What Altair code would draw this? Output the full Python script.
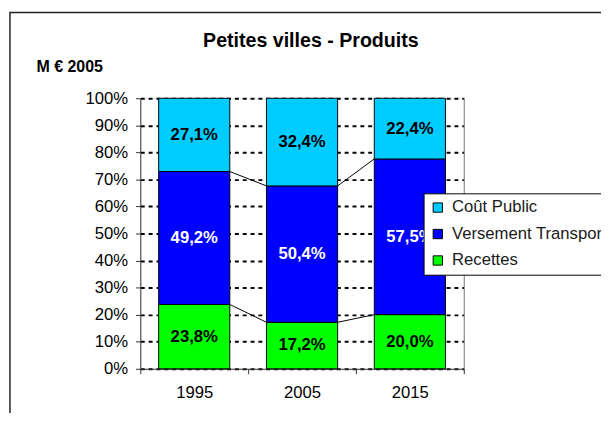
import json
import altair as alt
import pandas as pd

years = ["1995", "2005", "2015"]
series = ["Recettes", "Versement Transport", "Coût Public"]
recettes = [23.8, 17.2, 20.0]
versement = [49.2, 50.4, 57.5]
cout = [27.1, 32.4, 22.4]

legend_order = ["Coût Public", "Versement Transport", "Recettes"]
colors = {"Coût Public": "#00CCFF", "Versement Transport": "#0000FF", "Recettes": "#00FF00"}
text_colors = {"Coût Public": "#000000", "Versement Transport": "#FFFFFF", "Recettes": "#000000"}

FONT = "Liberation Sans"
BAR_L, BAR_R = 0.17, 0.83

rows = []
cums = []
for i, yr in enumerate(years):
    vals = [recettes[i], versement[i], cout[i]]
    total = sum(vals)
    cum = 0.0
    bounds = []
    for s, v in zip(series, vals):
        y0 = cum / total * 100
        y1 = (cum + v) / total * 100
        cum += v
        bounds.append(y1)
        rows.append({
            "year": yr, "series": s, "x0": i + BAR_L, "x1": i + BAR_R, "xm": i + 0.5,
            "y0": y0, "y1": y1, "ym": (y0 + y1) / 2,
            "label": f"{v:.1f}".replace(".", ",") + "%",
            "tcolor": text_colors[s],
        })
    cums.append(bounds)
df = pd.DataFrame(rows)

conn = []
for k in range(2):
    for i in range(len(years) - 1):
        conn.append({"x": i + BAR_R, "x2": i + 1 + BAR_L, "y": cums[i][k], "y2": cums[i + 1][k]})
conn_df = pd.DataFrame(conn)

W, H = 330, 276

x_scale = alt.Scale(domain=[0, len(years)], nice=False, zero=False)
y_scale = alt.Scale(domain=[0, 100], nice=False)

label_expr = ("(datum.value % 1 == 0.5) ? " + json.dumps(years) + "[floor(datum.value)] : ''")


def x_axis():
    return alt.Axis(
        values=[0, 0.5, 1, 1.5, 2, 2.5, 3], labelExpr=label_expr, title=None,
        grid=False, domainColor="#333333", tickColor="#333333", tickSize=5,
        tickOpacity={"condition": {"test": "datum.value % 1 == 0", "value": 1}, "value": 0},
        labelFont=FONT, labelFontSize=17, labelColor="#000000", labelPadding=11,
        labelOverlap=False,
    )


def y_axis():
    return alt.Axis(
        values=list(range(0, 101, 10)), labelExpr="datum.value + '%'", title=None,
        grid=True, gridColor="#000000", gridDash=[4, 4], gridWidth=2,
        domainColor="#333333", tickColor="#333333", tickSize=5,
        labelFont=FONT, labelFontSize=17, labelColor="#000000", labelPadding=8,
        labelOverlap=False,
    )


bars = alt.Chart(df).mark_bar(stroke="#000000", strokeWidth=1).encode(
    x=alt.X("x0:Q", scale=x_scale, axis=x_axis()),
    x2="x1:Q",
    y=alt.Y("y0:Q", scale=y_scale, axis=y_axis()),
    y2="y1:Q",
    color=alt.Color(
        "series:N",
        scale=alt.Scale(domain=legend_order, range=[colors[s] for s in legend_order]),
        legend=alt.Legend(
            title=None, orient="none", legendX=289, legendY=97,
            direction="vertical",
            symbolType="square", symbolSize=90, symbolStrokeColor="#000000",
            symbolStrokeWidth=1,
            labelFont=FONT, labelFontSize=17, labelColor="#1a1a1a", labelLimit=400,
            labelOffset=6, rowPadding=9, padding=6,
            strokeColor="#000000", fillColor="#FFFFFF",
        ),
    ),
)

labels = alt.Chart(df).mark_text(
    font=FONT, fontSize=17, fontWeight="bold", baseline="middle", align="center"
).encode(
    x=alt.X("xm:Q", scale=x_scale, axis=x_axis()),
    y=alt.Y("ym:Q", scale=y_scale, axis=y_axis()),
    text="label:N",
    color=alt.Color("tcolor:N", scale=None),
)

connectors = alt.Chart(conn_df).mark_rule(color="#000000", strokeWidth=1).encode(
    x=alt.X("x:Q", scale=x_scale, axis=x_axis()), x2="x2:Q",
    y=alt.Y("y:Q", scale=y_scale, axis=y_axis()), y2="y2:Q",
)

one = pd.DataFrame({"a": [0]})
right_border = alt.Chart(one).mark_rule(color="#808080", strokeWidth=1).encode(
    x=alt.value(W + 0.5), y=alt.value(0), y2=alt.value(H)
)
frame = alt.Chart(one).mark_rect(filled=False, stroke="#222222", strokeWidth=1.5).encode(
    x=alt.value(-133), y=alt.value(-87.5), x2=alt.value(800), y2=alt.value(700)
)
title = alt.Chart(one).mark_text(
    text="Petites villes - Produits", font=FONT, fontSize=20, fontWeight="bold",
    align="center", baseline="alphabetic", color="#000000"
).encode(x=alt.value(174), y=alt.value(-52))
unit = alt.Chart(one).mark_text(
    text="M € 2005", font=FONT, fontSize=16.3, fontWeight="bold",
    align="left", baseline="alphabetic", color="#000000"
).encode(x=alt.value(-106), y=alt.value(-27))

chart = alt.layer(frame, right_border, bars, connectors, labels, title, unit).properties(
    width=W, height=H,
    autosize=alt.AutoSizeParams(type="none"),
    padding={"left": 135, "top": 88, "right": 140, "bottom": 41},
).configure_view(stroke=None).configure(background="#FFFFFF")

chart.save("out.html", embed_options={"renderer": "svg", "actions": False})
